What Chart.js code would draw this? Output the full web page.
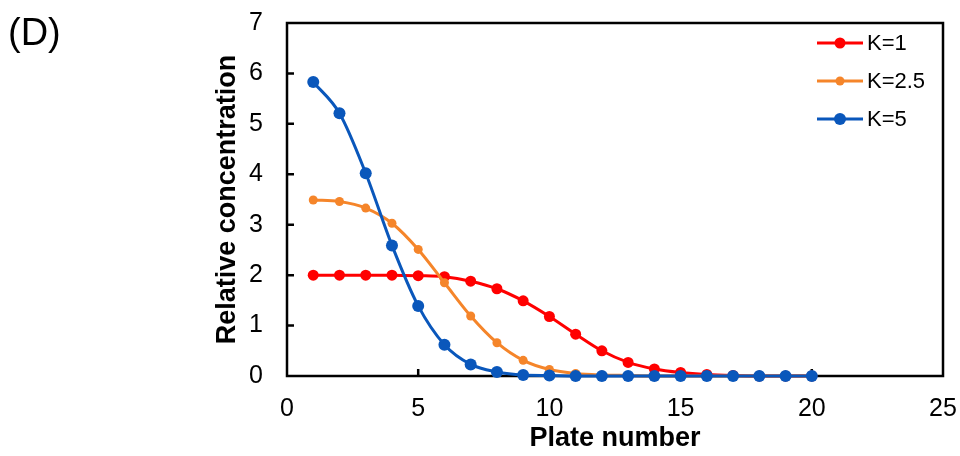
<!DOCTYPE html>
<html>
<head>
<meta charset="utf-8">
<script src="https://cdn.jsdelivr.net/npm/chart.js@4.4.1/dist/chart.umd.min.js"></script>
<style>
html,body{margin:0;padding:0;background:#fff;}
#wrap{width:960px;height:456px;position:relative;}
</style>
</head>
<body>
<div id="wrap"><canvas id="c" width="960" height="456"></canvas></div>
<script>
const plates = [1,2,3,4,5,6,7,8,9,10,11,12,13,14,15,16,17,18,19,20];
const seriesLabels = ['K=1','K=2.5','K=5'];
const k1  = [2.00,2.00,2.00,2.00,1.99,1.97,1.88,1.73,1.49,1.18,0.83,0.50,0.27,0.14,0.07,0.03,0.01,0.00,0.00,0.00];
const k25 = [3.49,3.46,3.33,3.03,2.51,1.85,1.19,0.66,0.31,0.13,0.05,0.02,0.01,0.00,0.00,0.00,0.00,0.00,0.00,0.00];
const k5  = [5.83,5.21,4.02,2.59,1.39,0.62,0.23,0.08,0.02,0.01,0.00,0.00,0.00,0.00,0.00,0.00,0.00,0.00,0.00,0.00];
const xTicks = [0,5,10,15,20,25];
const yTicks = [0,1,2,3,4,5,6,7];
const panelLabel = '(D)';

const FONT = "'Liberation Sans', Arial, sans-serif";
const colors = ['#ff0000','#f5852a','#0a57bb'];
const radii = [5.5,4.5,6];

function pts(arr){ return plates.map((p,i)=>({x:p,y:arr[i]})); }

const framePlugin = {
  id:'frame',
  beforeDatasetsDraw(chart){
    const {ctx, chartArea:a, scales:{x,y}} = chart;
    ctx.save();
    ctx.strokeStyle = '#000';
    ctx.lineWidth = 2.5;
    ctx.strokeRect(a.left, a.top, a.right-a.left, a.bottom-a.top);
    ctx.beginPath();
    xTicks.forEach(v=>{
      if(v===x.min || v===x.max) return;
      const px = x.getPixelForValue(v);
      ctx.moveTo(px, a.bottom); ctx.lineTo(px, a.bottom-7);
    });
    yTicks.forEach(v=>{
      if(v===y.min || v===y.max) return;
      const py = y.getPixelForValue(v);
      ctx.moveTo(a.left, py); ctx.lineTo(a.left+7, py);
    });
    ctx.stroke();
    ctx.restore();
  },
  afterDraw(chart){
    const {ctx} = chart;
    ctx.save();
    ctx.fillStyle = '#000';
    ctx.font = '38px ' + FONT;
    ctx.textBaseline = 'alphabetic';
    ctx.textAlign = 'left';
    ctx.fillText(panelLabel, 8, 45);
    // legend
    const ys = [43,81,119];
    chart.data.datasets.forEach((ds,i)=>{
      const yy = ys[i];
      ctx.strokeStyle = ds.borderColor;
      ctx.lineWidth = 3;
      ctx.beginPath(); ctx.moveTo(817,yy); ctx.lineTo(863,yy); ctx.stroke();
      ctx.fillStyle = ds.borderColor;
      ctx.beginPath(); ctx.arc(840,yy,ds.pointRadius,0,Math.PI*2); ctx.fill();
      ctx.fillStyle = '#000';
      ctx.font = '22px ' + FONT;
      ctx.textBaseline = 'middle';
      ctx.fillText(ds.label, 867, yy+1);
    });
    ctx.restore();
  }
};

const datasets = [k1,k25,k5].map((arr,i)=>({
  label: seriesLabels[i],
  data: pts(arr),
  borderColor: colors[i],
  backgroundColor: colors[i],
  pointBackgroundColor: colors[i],
  pointBorderWidth: 0,
  pointRadius: radii[i],
  borderWidth: 3,
  cubicInterpolationMode: 'monotone',
  clip: false,
  order: 3-i
}));

new Chart(document.getElementById('c'), {
  type:'line',
  data:{datasets},
  options:{
    responsive:false,
    animation:false,
    events:[],
    layout:{padding:{left:211,top:23,right:17,bottom:1}},
    plugins:{legend:{display:false},tooltip:{enabled:false}},
    scales:{
      x:{
        type:'linear', min:0, max:25,
        afterBuildTicks(s){ s.ticks = xTicks.map(v=>({value:v})); },
        afterFit(s){ s.height = 79; s.paddingLeft = 0; s.paddingRight = 0; },
        grid:{display:false, drawTicks:false},
        border:{display:false},
        ticks:{autoSkip:false, padding:18, color:'#000', font:{family:FONT,size:25}},
        title:{display:true, text:'Plate number', color:'#000', padding:0, font:{family:FONT,size:27,weight:'bold'}}
      },
      y:{
        type:'linear', min:0, max:7,
        afterBuildTicks(s){ s.ticks = yTicks.map(v=>({value:v})); },
        afterFit(s){ s.width = 76; s.paddingTop = 0; s.paddingBottom = 0; },
        grid:{display:false, drawTicks:false},
        border:{display:false},
        ticks:{autoSkip:false, padding:24, color:'#000', font:{family:FONT,size:25}},
        title:{display:true, text:'Relative concentration', color:'#000', padding:0, font:{family:FONT,size:27,weight:'bold'}}
      }
    }
  },
  plugins:[framePlugin]
});
</script>
</body>
</html>
